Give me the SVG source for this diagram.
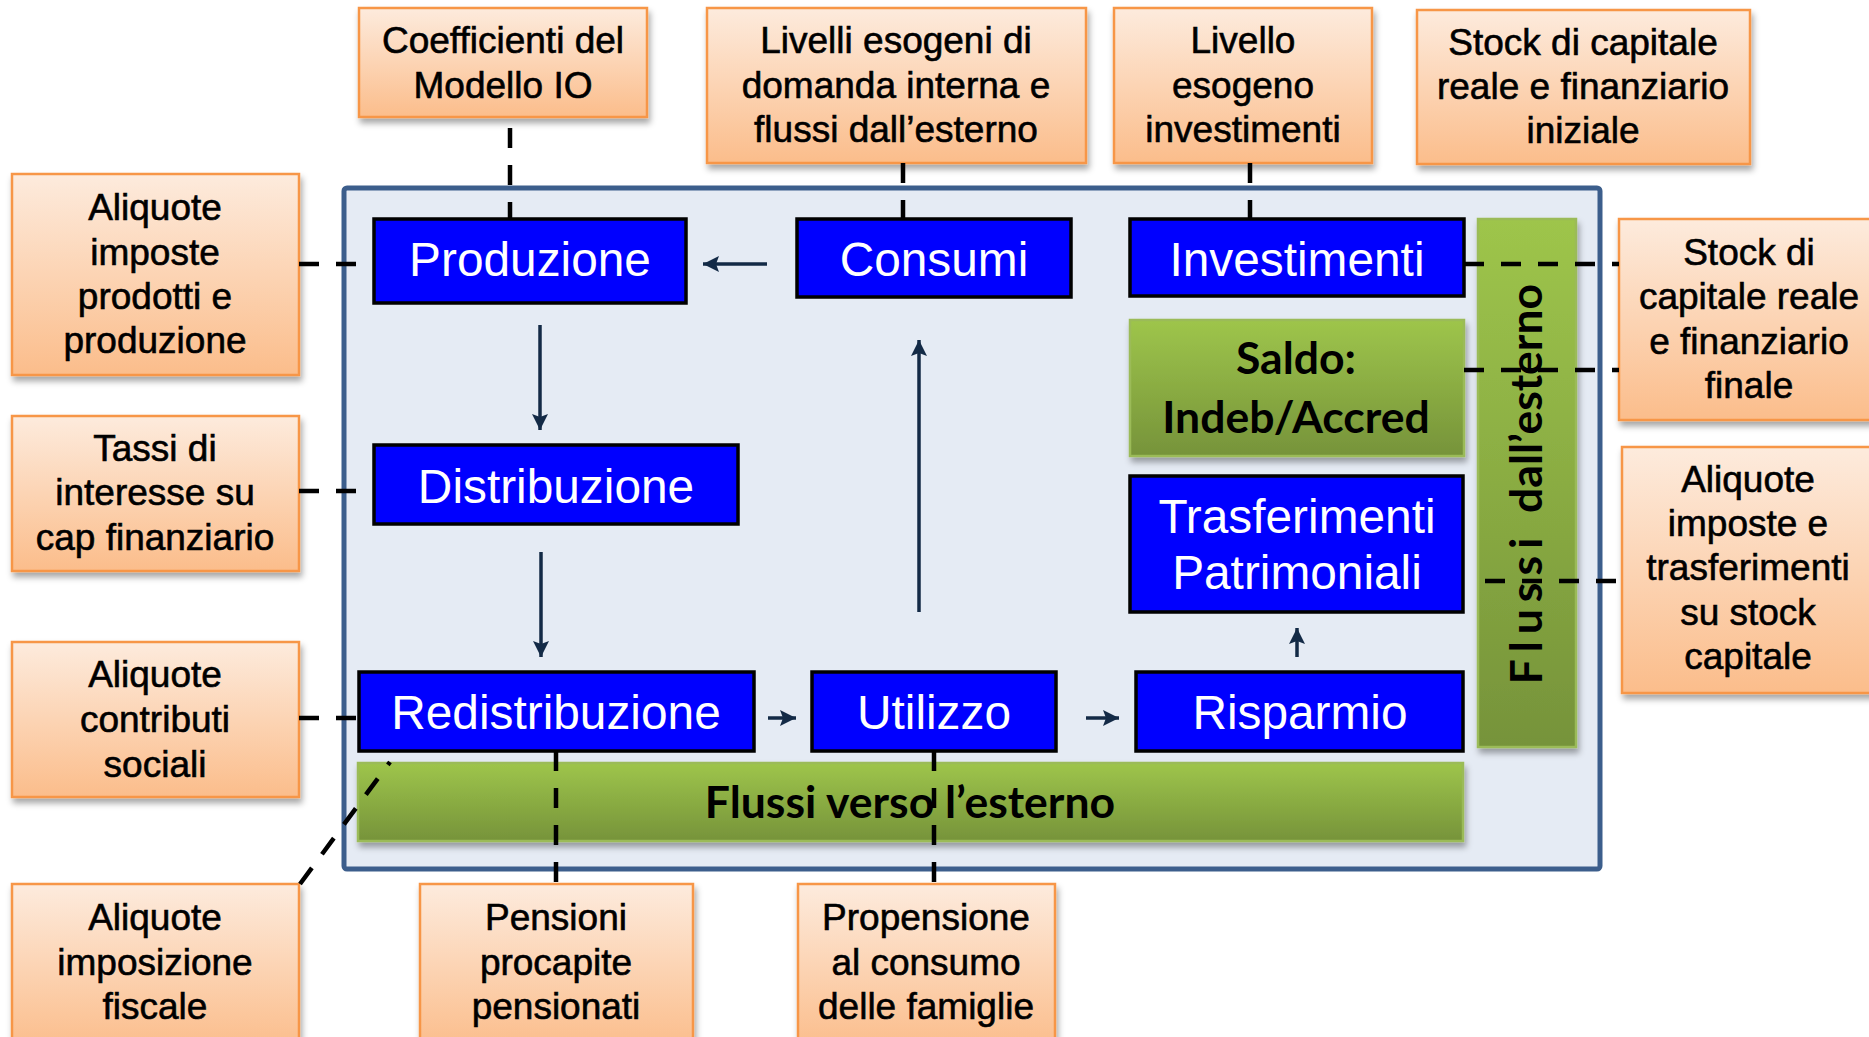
<svg xmlns="http://www.w3.org/2000/svg" width="1869" height="1037" viewBox="0 0 1869 1037">
<defs>
<linearGradient id="gOr" x1="0" y1="0" x2="0" y2="1">
<stop offset="0" stop-color="#FDEBDD"/>
<stop offset="1" stop-color="#FBBD8B"/>
</linearGradient>
<linearGradient id="gGr" x1="0" y1="0" x2="0" y2="1">
<stop offset="0" stop-color="#9EC54B"/>
<stop offset="1" stop-color="#76933A"/>
</linearGradient>
<filter id="sh" x="-10%" y="-10%" width="130%" height="140%">
<feDropShadow dx="2" dy="5" stdDeviation="3" flood-color="#000" flood-opacity="0.35"/>
</filter>
<marker id="ah" viewBox="0 0 16 16" refX="16" refY="8" markerWidth="16" markerHeight="16" markerUnits="userSpaceOnUse" orient="auto">
<path d="M0,0 L16,8 L0,16 L3,8 z" fill="#132A46"/>
</marker>
<style>
.or{fill:url(#gOr);stroke:#F79646;stroke-width:2.5;filter:url(#sh)}
.ot{font-family:"Liberation Sans",Arial,sans-serif;font-size:37px;fill:#000;stroke:#000;stroke-width:0.6;text-anchor:middle}
.bl{fill:#0000FF;stroke:#000;stroke-width:3.5}
.bt{font-family:"Liberation Sans",Arial,sans-serif;font-size:47.8px;fill:#fff;text-anchor:middle}
.gr{fill:url(#gGr);stroke:#9BBB59;stroke-width:2.5;filter:url(#sh)}
.gt{font-family:Lato,"Open Sans",sans-serif;font-weight:bold;font-size:44.5px;fill:#000;text-anchor:middle}
.ar{stroke:#132A46;stroke-width:3.5;fill:none;marker-end:url(#ah)}
.dl{stroke:#000;stroke-width:4.5;fill:none;stroke-dasharray:20 17}
</style>
</defs>

<g id="container">
<rect x="344" y="188" width="1256" height="681" rx="3" fill="#E5EBF4" stroke="#3C5E8C" stroke-width="5"/>
</g>

<g id="n-coefficienti">
<rect class="or" x="359" y="8" width="288" height="109"/>
<text class="ot" x="503" y="53">Coefficienti del</text>
<text class="ot" x="503" y="98">Modello IO</text>
</g>
<g id="n-livelli">
<rect class="or" x="707" y="8" width="379" height="155"/>
<text class="ot" x="896" y="53">Livelli esogeni di</text>
<text class="ot" x="896" y="98">domanda interna e</text>
<text class="ot" x="896" y="142">flussi dall’esterno</text>
</g>
<g id="n-livello">
<rect class="or" x="1114" y="8" width="258" height="155"/>
<text class="ot" x="1243" y="53">Livello</text>
<text class="ot" x="1243" y="98">esogeno</text>
<text class="ot" x="1243" y="142">investimenti</text>
</g>
<g id="n-stock-iniziale">
<rect class="or" x="1417" y="10" width="333" height="154"/>
<text class="ot" x="1583" y="55">Stock di capitale</text>
<text class="ot" x="1583" y="99">reale e finanziario</text>
<text class="ot" x="1583" y="143">iniziale</text>
</g>
<g id="n-aliquote-prod">
<rect class="or" x="12" y="174" width="287" height="201"/>
<text class="ot" x="155" y="220">Aliquote</text>
<text class="ot" x="155" y="265">imposte</text>
<text class="ot" x="155" y="309">prodotti e</text>
<text class="ot" x="155" y="353">produzione</text>
</g>
<g id="n-tassi">
<rect class="or" x="12" y="416" width="287" height="155"/>
<text class="ot" x="155" y="461">Tassi di</text>
<text class="ot" x="155" y="505">interesse su</text>
<text class="ot" x="155" y="550">cap finanziario</text>
</g>
<g id="n-contributi">
<rect class="or" x="12" y="642" width="287" height="155"/>
<text class="ot" x="155" y="687">Aliquote</text>
<text class="ot" x="155" y="732">contributi</text>
<text class="ot" x="155" y="777">sociali</text>
</g>
<g id="n-fiscale">
<rect class="or" x="12" y="884" width="287" height="165"/>
<text class="ot" x="155" y="930">Aliquote</text>
<text class="ot" x="155" y="975">imposizione</text>
<text class="ot" x="155" y="1019">fiscale</text>
</g>
<g id="n-pensioni">
<rect class="or" x="420" y="884" width="273" height="165"/>
<text class="ot" x="556" y="930">Pensioni</text>
<text class="ot" x="556" y="975">procapite</text>
<text class="ot" x="556" y="1019">pensionati</text>
</g>
<g id="n-propensione">
<rect class="or" x="798" y="884" width="257" height="165"/>
<text class="ot" x="926" y="930">Propensione</text>
<text class="ot" x="926" y="975">al consumo</text>
<text class="ot" x="926" y="1019">delle famiglie</text>
</g>
<g id="n-stock-finale">
<rect class="or" x="1619" y="219" width="262" height="201"/>
<text class="ot" x="1749" y="265">Stock di</text>
<text class="ot" x="1749" y="309">capitale reale</text>
<text class="ot" x="1749" y="354">e finanziario</text>
<text class="ot" x="1749" y="398">finale</text>
</g>
<g id="n-aliquote-stock">
<rect class="or" x="1622" y="447" width="259" height="246"/>
<text class="ot" x="1748" y="492">Aliquote</text>
<text class="ot" x="1748" y="536">imposte e</text>
<text class="ot" x="1748" y="580">trasferimenti</text>
<text class="ot" x="1748" y="625">su stock</text>
<text class="ot" x="1748" y="669">capitale</text>
</g>

<g id="n-produzione">
<rect class="bl" x="374" y="219" width="312" height="84"/>
<text class="bt" x="530" y="276">Produzione</text>
</g>
<g id="n-consumi">
<rect class="bl" x="797" y="219" width="274" height="78"/>
<text class="bt" x="934" y="276">Consumi</text>
</g>
<g id="n-investimenti">
<rect class="bl" x="1130" y="219" width="334" height="77"/>
<text class="bt" x="1297" y="276">Investimenti</text>
</g>
<g id="n-saldo">
<rect class="gr" x="1130" y="320" width="334" height="136"/>
<text class="gt" x="1296" y="374">Saldo:</text>
<text class="gt" x="1296" y="433">Indeb/Accred</text>
</g>
<g id="n-trasferimenti">
<rect class="bl" x="1130" y="476" width="333" height="136"/>
<text class="bt" x="1297" y="533">Trasferimenti</text>
<text class="bt" x="1297" y="589">Patrimoniali</text>
</g>
<g id="n-distribuzione">
<rect class="bl" x="374" y="445" width="364" height="79"/>
<text class="bt" x="556" y="503">Distribuzione</text>
</g>
<g id="n-redistribuzione">
<rect class="bl" x="359" y="672" width="395" height="79"/>
<text class="bt" x="556" y="729">Redistribuzione</text>
</g>
<g id="n-utilizzo">
<rect class="bl" x="812" y="672" width="244" height="79"/>
<text class="bt" x="934" y="729">Utilizzo</text>
</g>
<g id="n-risparmio">
<rect class="bl" x="1136" y="672" width="327" height="79"/>
<text class="bt" x="1300" y="729">Risparmio</text>
</g>
<g id="n-flussi-verso">
<rect class="gr" x="358" y="763" width="1105" height="78"/>
<text class="gt" x="910" y="818">Flussi verso l’esterno</text>
</g>
<g id="n-flussi-dall">
<rect class="gr" x="1478" y="219" width="98" height="528"/>
<text class="gt" x="1542" y="484" transform="rotate(-90 1542 484)"><tspan letter-spacing="7">Flussi </tspan>dall’esterno</text>
</g>

<g id="connectors">
<line class="ar" x1="767" y1="264" x2="703" y2="264"/>
<line class="ar" x1="540" y1="325" x2="540" y2="430"/>
<line class="ar" x1="541" y1="552" x2="541" y2="657"/>
<line class="ar" x1="768" y1="718" x2="796" y2="718"/>
<line class="ar" x1="1086" y1="718" x2="1119" y2="718"/>
<line class="ar" x1="1297" y1="657" x2="1297" y2="628"/>
<line class="ar" x1="919" y1="612" x2="919" y2="340"/>

<line class="dl" x1="510" y1="128" x2="510" y2="219"/>
<line class="dl" x1="903" y1="163" x2="903" y2="219"/>
<line class="dl" x1="1250" y1="163" x2="1250" y2="219"/>
<line class="dl" x1="299" y1="264" x2="374" y2="264"/>
<line class="dl" x1="299" y1="491" x2="374" y2="491"/>
<line class="dl" x1="299" y1="718" x2="359" y2="718"/>
<line class="dl" x1="300" y1="884" x2="390" y2="762"/>
<line class="dl" x1="556" y1="751" x2="556" y2="884"/>
<line class="dl" x1="934" y1="751" x2="934" y2="884"/>
<line class="dl" x1="1464" y1="264" x2="1619" y2="264"/>
<line class="dl" x1="1464" y1="370" x2="1619" y2="370"/>
<line class="dl" x1="1485" y1="581" x2="1622" y2="581"/>
</g>
</svg>
